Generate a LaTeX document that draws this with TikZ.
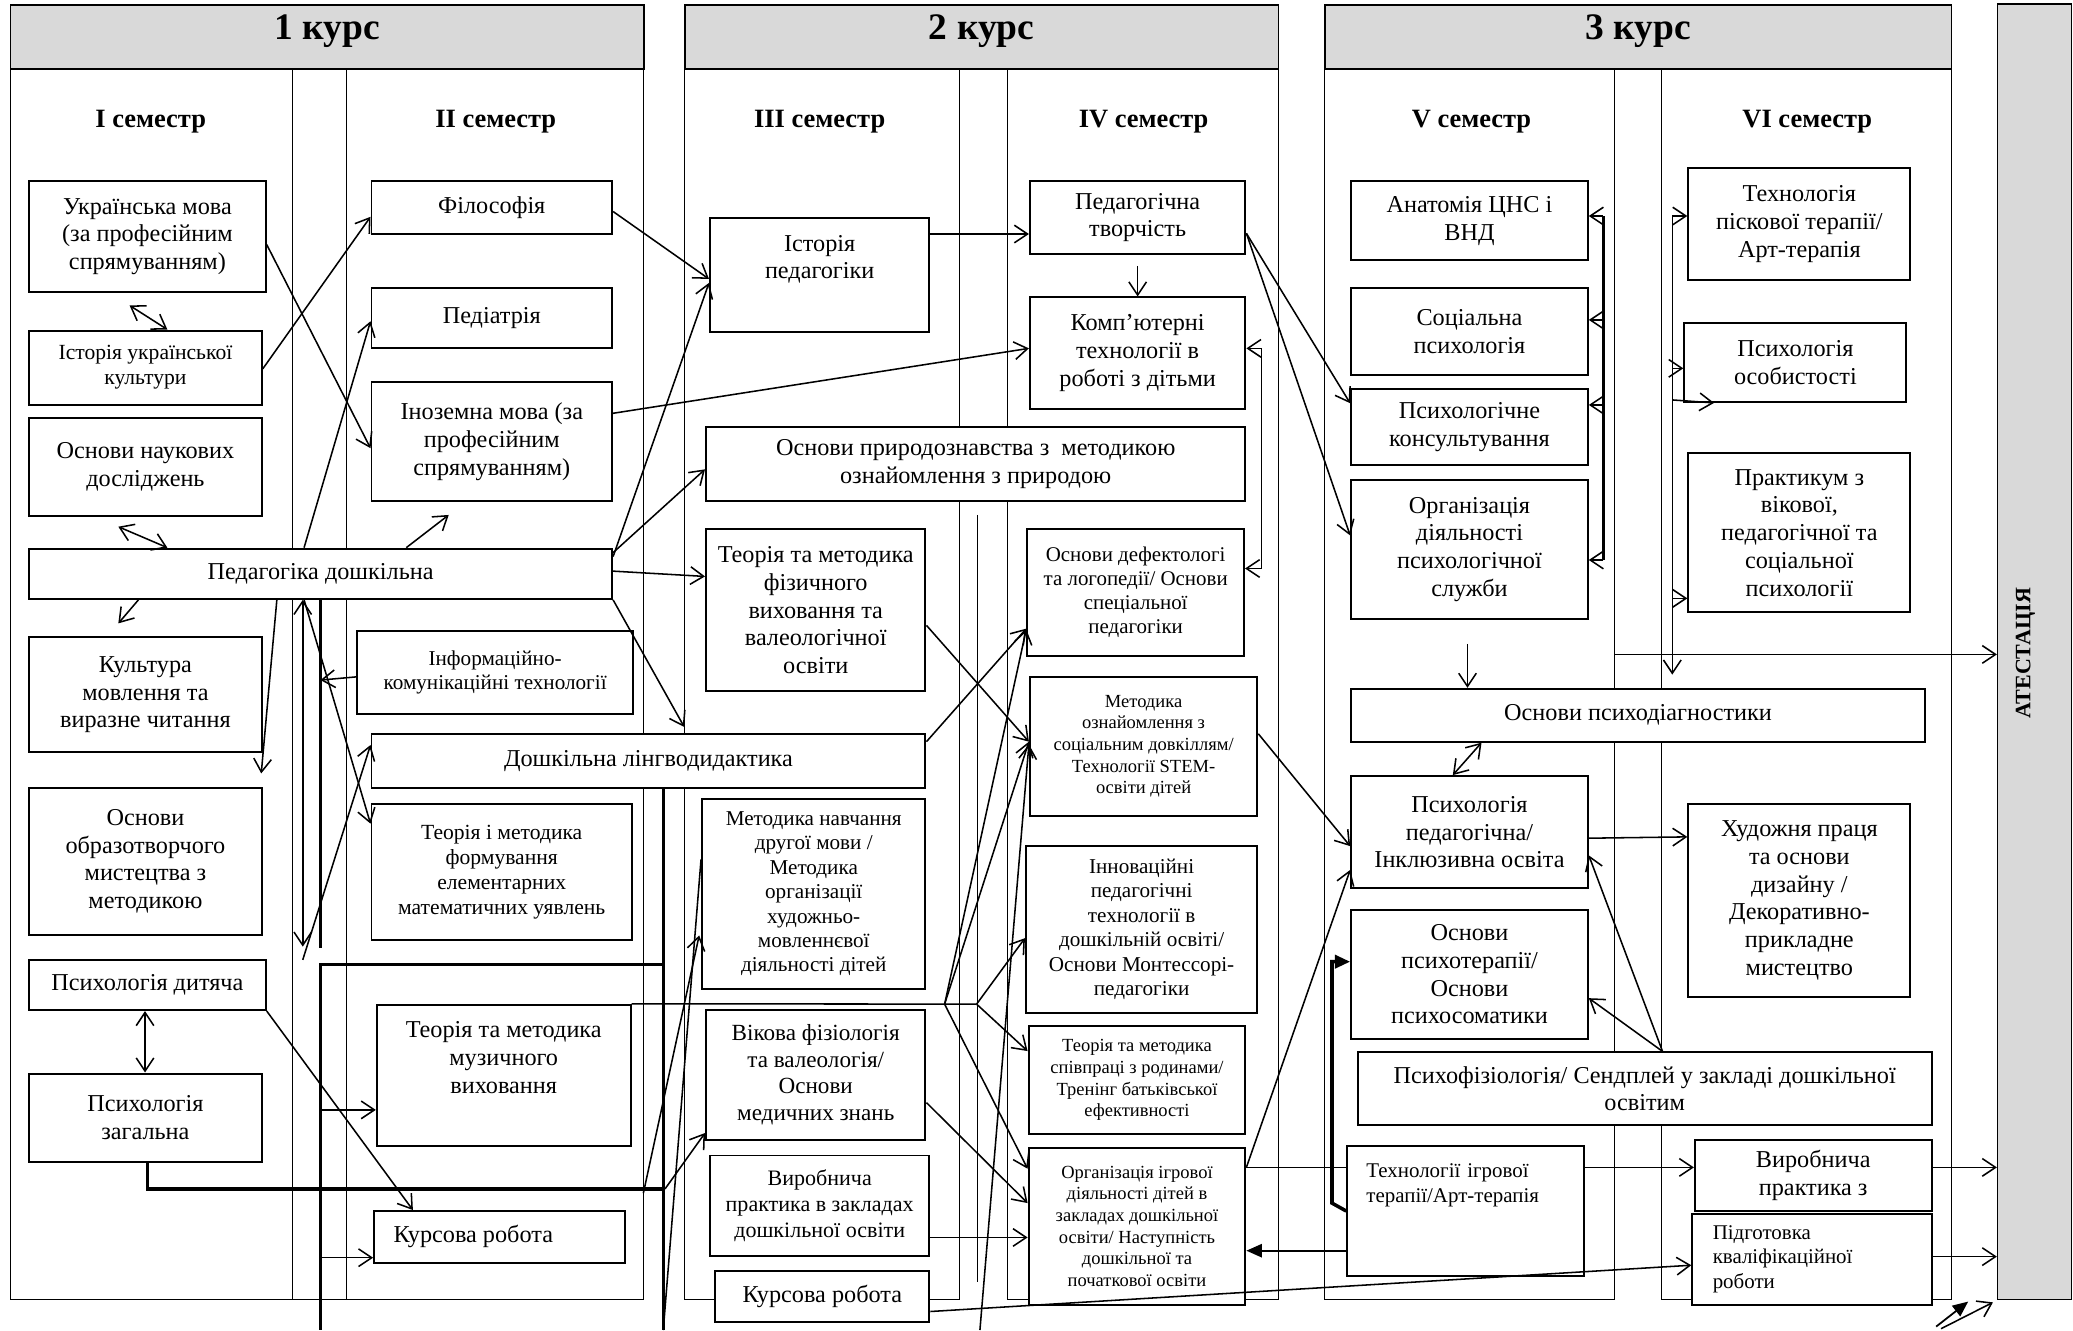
\documentclass[tikz,border=0pt]{standalone}
\usepackage{fontspec}
\setmainfont{Liberation Serif}
\usetikzlibrary{arrows.meta}
\definecolor{hdrgray}{HTML}{D9D9D9}
\newcommand\BX[7][]{%
  \node[box,#1,minimum width={(#4-#2)*0.6pt},minimum height={(#5-#3)*0.6pt}] (#6) at ({(#2+#4)/2},{(#3+#5)/2}) {#7};}
\tikzset{
  box/.style={draw, line width=0.9pt, fill=white, inner sep=0pt, align=center, font=\fontsize{11}{12.6}\selectfont},
  hdr/.style={fill=hdrgray, line width=0.8pt, text depth=9pt, font=\bfseries\fontsize{17}{20}\selectfont},
  sem/.style={font=\bfseries\fontsize{12}{14}\selectfont, inner sep=1pt},
  sm/.style={font=\fontsize{9.8}{11.3}\selectfont},
  msm/.style={font=\fontsize{9.6}{11.1}\selectfont},
  mid/.style={font=\fontsize{10.5}{12.1}\selectfont},
  ften/.style={font=\fontsize{10}{12}\selectfont},
  fnf/.style={font=\fontsize{9.5}{11}\selectfont},
  xs/.style={font=\fontsize{8.4}{9.8}\selectfont},
  frame/.style={line width=0.45pt},
  line/.style={line width=0.7pt},
  medl/.style={line width=1.1pt},
  arr/.style={line width=0.7pt, -{Straight Barb[length=6pt,width=8pt]}},
  darr/.style={line width=0.7pt, {Straight Barb[length=6pt,width=8pt]}-{Straight Barb[length=6pt,width=8pt]}},
  farr/.style={line width=0.8pt, -{Triangle[length=7pt,width=6pt]}},
  thickl/.style={line width=1.6pt},
  thickf/.style={line width=1.6pt, -{Triangle[length=7pt,width=6pt]}},
}
\begin{document}
\begin{tikzpicture}[x=0.6pt,y=-0.6pt]
\useasboundingbox (0,0) rectangle (1568,1006);
% frames
\draw[frame] (8,52) rectangle (487,983);
\draw[frame] (221,52) -- (221,983);
\draw[frame] (262,52) -- (262,983);
\draw[frame] (518,52) rectangle (726,983);
\draw[frame] (762,52) rectangle (967,983);
\draw[frame] (1002,52) rectangle (1221,983);
\draw[frame] (1257,52) rectangle (1476,983);
% headers
\BX[hdr]{8}{4}{487}{52}{h1}{1 курс}
\BX[hdr]{518}{4}{967}{52}{h2}{2 курс}
\BX[hdr]{1002}{4}{1476}{52}{h3}{3 курс}
\BX[fill=hdrgray,line width=0.7pt]{1511}{3}{1567}{983}{att}{}
\node[rotate=90, font=\bfseries\fontsize{10}{12}\selectfont] (attl) at (1532,494) {АТЕСТАЦІЯ};
% semesters
\node[sem] (s1) at (114,92) {I семестр};
\node[sem] (s2) at (375,92) {II семестр};
\node[sem] (s3) at (620,92) {III семестр};
\node[sem] (s4) at (865,92) {IV семестр};
\node[sem] (s5) at (1113,92) {V семестр};
\node[sem] (s6) at (1367,92) {VI семестр};
% column I
\BX{22}{137}{201}{221}{ukr}{Українська мова\\(за професійним\\спрямуванням)}
\BX[sm]{22}{250}{198}{306}{istukr}{Історія української\\культури}
\BX{22}{316}{198}{390}{osnnauk}{Основи наукових\\досліджень}
\BX{22}{415}{463}{453}{peddosh}{Педагогіка дошкільна}
\BX{22}{482}{198}{569}{kultmov}{Культура\\мовлення та\\виразне читання}
\BX{22}{596}{198}{707}{osnobraz}{Основи\\образотворчого\\мистецтва з\\методикою}
\BX{22}{726}{201}{764}{psdyt}{Психологія дитяча}
\BX{22}{812}{198}{879}{pszag}{Психологія\\загальна}
% column II
\BX{281}{137}{463}{177}{filos}{Філософія}
\BX{281}{218}{463}{263}{pediat}{Педіатрія}
\BX{281}{289}{463}{379}{inoz}{Іноземна мова (за\\професійним\\спрямуванням)}
\BX[msm]{270}{477}{479}{540}{ikt}{Інформаційно-\\комунікаційні технології}
\BX{281}{555}{700}{596}{lingvo}{Дошкільна лінгводидактика}
\BX[sm]{281}{608}{478}{711}{tmfemu}{Теорія і методика\\формування\\елементарних\\математичних уявлень}
\BX{285}{760}{477}{867}{tmmuz}{Теорія та методика\\музичного\\виховання\\\strut}
\BX{283}{916}{473}{955}{kurs1}{Курсова робота\hspace*{24pt}}
% column III
\BX{537}{165}{703}{251}{istped}{Історія\\педагогіки\\\strut}
\BX{534}{323}{942}{379}{prirod}{Основи природознавства з\ \ методикою\\ознайомлення з природою}
\BX{534}{400}{700}{523}{fizvyh}{Теорія та методика\\фізичного\\виховання та\\валеологічної\\освіти}
\BX[msm]{531}{604}{700}{748}{metdrug}{Методика навчання\\другої мови /\\Методика\\організації\\художньо-\\мовленнєвої\\діяльності дітей}
\BX[mid]{534}{764}{700}{862}{vikfiz}{Вікова фізіологія\\та валеологія/\\Основи\\медичних знань}
\BX[ften]{537}{874}{703}{950}{vyrprak1}{Виробнича\\практика в закладах\\дошкільної освіти}
\BX{541}{961}{703}{1000}{kurs2}{Курсова робота}
% column IV
\BX{779}{137}{942}{192}{pedtv}{Педагогічна\\творчість}
\BX{779}{225}{942}{309}{komp}{Комп’ютерні\\технології в\\роботі з дітьми}
\BX[fnf]{777}{400}{941}{496}{defekt}{Основи дефектологі\\та логопедії/ Основи\\спеціальної\\педагогіки}
\BX[xs]{779}{512}{951}{617}{metsoc}{Методика\\ознайомлення з\\соціальним довкіллям/\\Технології STEM-\\освіти дітей}
\BX[msm]{776}{640}{951}{766}{innov}{Інноваційні\\педагогічні\\технології в\\дошкільній освіті/\\Основи Монтессорі-\\педагогіки}
\BX[xs]{778}{776}{942}{858}{spivpr}{Теорія та методика\\співпраці з родинами/\\Тренінг батьківської\\ефективності}
\BX[xs]{778}{868}{942}{987}{orgigr}{Організація ігрової\\діяльності дітей в\\закладах дошкільної\\освіти/ Наступність\\дошкільної та\\початкової освіти}
% column V
\BX{1022}{137}{1201}{197}{anat}{Анатомія ЦНС і\\ВНД}
\BX{1022}{218}{1201}{284}{socps}{Соціальна\\психологія}
\BX{1022}{294}{1201}{352}{pskons}{Психологічне\\консультування}
\BX{1022}{363}{1201}{468}{orgps}{Організація\\діяльності\\психологічної\\служби}
\BX{1022}{521}{1456}{561}{psdiag}{Основи психодіагностики}
\BX{1022}{587}{1201}{672}{psped}{Психологія\\педагогічна/\\Інклюзивна освіта}
\BX{1022}{688}{1201}{786}{psyter}{Основи\\психотерапії/\\Основи\\психосоматики}
\BX{1027}{796}{1461}{851}{psfiz}{Психофізіологія/ Сендплей у закладі дошкільної\\освітим}
\BX[fnf,align=left,text width=90pt]{1019}{867}{1198}{965}{tehigr}{Технології ігрової\\терапії/Арт-терапія\\\strut\\\strut}
% column VI
\BX{1277}{127}{1445}{212}{pisok}{Технологія\\піскової терапії/\\Арт-терапія}
\BX{1274}{244}{1442}{304}{psosob}{Психологія\\особистості}
\BX{1277}{343}{1445}{463}{praktikum}{Практикум з\\вікової,\\педагогічної та\\соціальної\\психології}
\BX{1277}{608}{1445}{754}{hudpr}{Художня праця\\та основи\\дизайну /\\Декоративно-\\прикладне\\мистецтво}
\BX{1282}{862}{1461}{916}{vyrprak3}{Виробнича\\практика з}
\BX[fnf,align=left,text width=90pt]{1280}{918}{1461}{987}{kvalif}{Підготовка\\кваліфікаційної\\роботи}
% ---------- connectors: columns I / II
\draw[arr] (ukr.east |- 0,185) -- (inoz.west |- 0,339);
\coordinate (c2a) at (98,231);
\draw[darr] (c2a) -- (istukr.north -| 126.6,0);
\draw[arr] (istukr.east |- 0,279) -- (filos.west |- 0,164);
\draw[arr] (peddosh.north -| 230,0) -- (pediat.west |- 0,243);
\coordinate (c5a) at (89.5,398.4);
\draw[darr] (c5a) -- (peddosh.north -| 126.6,0);
\coordinate (c6e) at (339.4,389.5);
\draw[arr] (peddosh.north -| 307.3,0) -- (c6e);
\draw[arr] (inoz.east |- 0,312.6) -- (komp.west |- 0,263.5);
\draw[arr] (filos.east |- 0,160) -- (istped.west |- 0,211);
\draw[arr] (peddosh.east |- 0,421) -- (istped.west |- 0,214);
\draw[arr] (peddosh.east |- 0,418) -- (prirod.west |- 0,355);
\draw[arr] (peddosh.east |- 0,432) -- (fizvyh.west |- 0,436);
\draw[arr, shorten >=3pt] (peddosh.south east) -- (lingvo.north -| 520,0);
\coordinate (c13e) at (89.5,471.5);
\draw[arr] (peddosh.south -| 104.7,0) -- (c13e);
\coordinate (c14e) at (197.6,585);
\draw[arr] (peddosh.south -| 209.4,0) -- (c14e);
\coordinate (c15e) at (229,716);
\draw[darr] (peddosh.south -| 229,0) -- (c15e);
\coordinate (c16e) at (242.4,717.3);
\draw[thickl] (peddosh.south -| 242.4,0) -- (c16e);
\draw[arr] (ikt.west |- 0,512) -- (c16e |- 0,514.4);
\draw[arr] (peddosh.south -| 230,0) -- (tmfemu.west |- 0,623);
\coordinate (c19s) at (229,726);
\draw[arr] (c19s) -- (lingvo.west |- 0,563.5);
\coordinate (j1) at (501.7,729.5);
\coordinate (j2) at (242.4,729.5);
\coordinate (b1) at (242.4,1006);
\coordinate (b2) at (501.7,1006);
\draw[thickl] (lingvo.south -| b2) -- (b2);
\draw[thickl] (j1) -- (j2) -- (b1);
\draw[arr] (j2 |- 0,839.5) -- (tmmuz.west |- 0,839.5);
\draw[arr] (j2 |- 0,951.3) -- (kurs1.west |- 0,951.3);
\draw[darr] (psdyt.south -| 109.7,0) -- (pszag.north -| 109.7,0);
\draw[arr] (psdyt.south east) -- (kurs1.north -| 312.3,0);
\coordinate (j3) at (503,899.3);
\draw[thickl] (pszag.south -| 111.4,0) |- (j3);
\draw[arr] (j3) -- (vikfiz.west |- 0,857);
\coordinate (c24s) at (486.6,902.6);
\draw[arr, shorten >=4pt] (c24s) -- (metdrug.west |- 0,701);
\draw[line] (b2) -- (metdrug.west |- 0,650);
% ---------- columns III / IV
\draw[arr] (istped.east |- 0,177) -- (pedtv.west |- 0,177);
\draw[arr, shorten <=5pt] (pedtv.south) -- (komp.north);
\coordinate (kb1) at (954.2,263.5);
\coordinate (kb2) at (954.2,430);
\draw[darr] (komp.east |- kb1) -- (kb1) -- (kb2) -- (defekt.east |- kb2);
\draw[arr] (fizvyh.east |- 0,473) -- (metsoc.west |- 0,561);
\draw[arr] (lingvo.east |- 0,561) -- (defekt.west |- 0,475.5);
\coordinate (P2) at (738.7,759.5);
\coordinate (P1) at (714.5,759.5);
\draw[line] (tmmuz.north east) -- (P2);
\draw[arr] (P2) -- (innov.west |- 0,709.6);
\draw[arr] (P2) -- (spivpr.west |- 0,795);
\draw[arr] (P1) -- (defekt.west |- 0,476);
\draw[arr] (P1) -- (metsoc.west |- 0,561);
\draw[arr] (P1) -- (orgigr.west |- 0,884);
\draw[arr] (vikfiz.east |- 0,834) -- (orgigr.west |- 0,910);
\draw[arr] (vyrprak1.east |- 0,936) -- (orgigr.west |- 0,936);
\draw[arr] (kurs2.east |- 0,992) -- (kvalif.west |- 0,957);
\coordinate (c36s) at (741.2,1006);
\draw[arr] (c36s) -- (metsoc.west |- 0,563);
\coordinate (v1) at (739.5,389.5);
\coordinate (v2) at (739.5,970);
\draw[line] (v1) -- (v2);
% ---------- columns V / VI
\draw[arr] (pedtv.east |- 0,176.5) -- (pskons.west |- 0,305);
\draw[arr] (pedtv.east |- 0,176.5) -- (orgps.west |- 0,405);
\coordinate (vb1) at (1212.7,163.4);
\coordinate (vb2) at (1212.7,423.6);
\draw[medl] (vb1) -- (vb2);
\foreach \n/\yy in {anat/163.4, socps/242, pskons/306.3, orgps/423.6}
  \draw[arr] (vb1 |- 0,\yy) -- (\n.east |- 0,\yy);
\coordinate (wb1) at (1264.9,163.4);
\draw[arr, shorten >=6pt] (wb1) -- (psdiag.north -| wb1);
\foreach \n/\yy in {pisok/163.4, psosob/278.6, praktikum/452.6}
  \draw[arr] (wb1 |- 0,\yy) -- (\n.west |- 0,\yy);
\draw[arr] (wb1 |- 0,302.5) -- (psosob.south -| 1296.5,0);
\draw[arr, shorten <=11pt] (orgps.south -| 1110,0) -- (psdiag.north -| 1110,0);
\coordinate (c42s) at (1220.9,495);
\draw[arr] (c42s) -- (att.west |- c42s);
\draw[darr] (psped.north -| 1098.9,0) -- (psdiag.south -| 1120.6,0);
\draw[arr] (psped.east |- 0,634) -- (hudpr.west |- 0,633);
\draw[arr] (metsoc.east |- 0,555) -- (psped.west |- 0,640);
\draw[arr] (orgigr.east |- 0,883) -- (psped.west |- 0,658);
\draw[line] (orgigr.east |- 0,883) -- (tehigr.west |- 0,883);
\draw[arr] (tehigr.east |- 0,883) -- (vyrprak3.west |- 0,883);
\draw[farr] (tehigr.west |- 0,946) -- (orgigr.east |- 0,946);
\draw[thickf] (tehigr.west |- 0,916) -- (1007.5,910) -- (1007.5,727.4) -- (psyter.west |- 0,727.4);
\draw[arr] (psfiz.north -| 1257.5,0) -- (psped.east |- 0,647);
\draw[arr] (psfiz.north -| 1257.5,0) -- (psyter.east |- 0,755);
\draw[arr] (vyrprak3.east |- 0,883) -- (att.west |- 0,883);
\draw[arr] (kvalif.east |- 0,950.5) -- (att.west |- 0,950.5);
\coordinate (br1) at (1464.5,1003.4);
\coordinate (br1e) at (1488.7,984.5);
\draw[farr] (br1) -- (br1e);
\coordinate (br2) at (1468.2,1005);
\draw[arr, shorten >=2pt] (br2) -- (att.south west);
\end{tikzpicture}
\end{document}
